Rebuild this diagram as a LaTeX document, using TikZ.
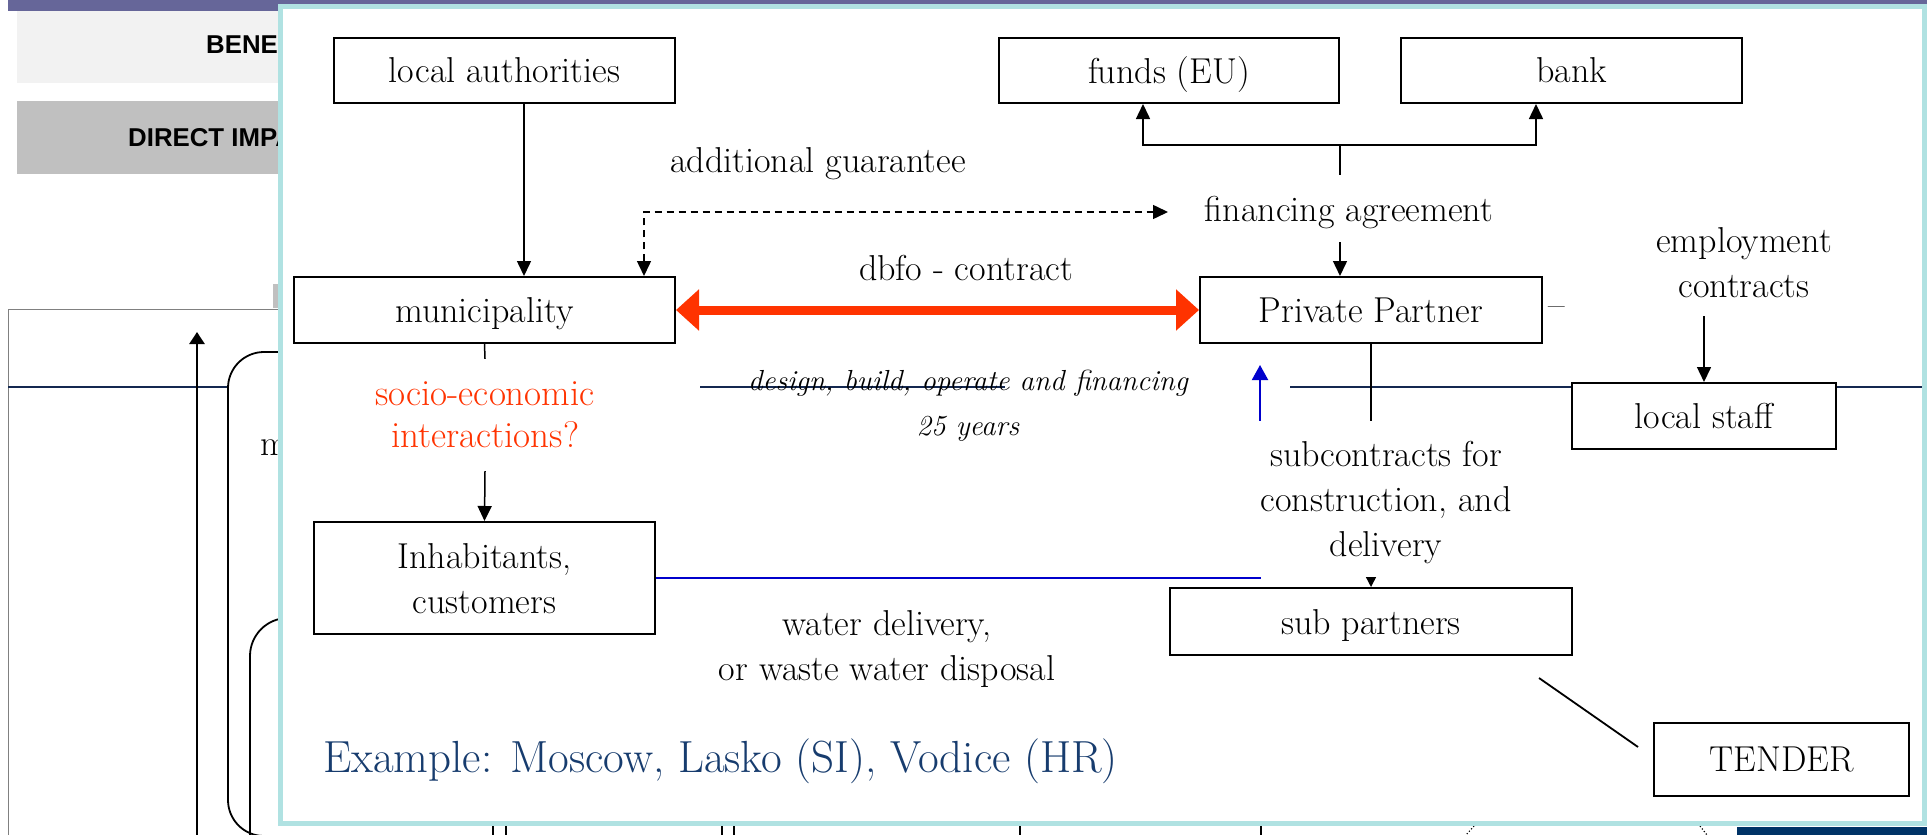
\documentclass[tikz,border=0pt]{standalone}
\usepackage{fontspec}
\newfontfamily\arialf{Liberation Sans}
\usetikzlibrary{arrows.meta,calc}
\definecolor{panelc}{RGB}{176,226,226}
\definecolor{barc}{RGB}{102,102,153}
\definecolor{lgray}{RGB}{242,242,242}
\definecolor{mgray}{RGB}{192,192,192}
\definecolor{navyl}{RGB}{20,40,80}
\definecolor{navyr}{RGB}{0,51,102}
\definecolor{redc}{RGB}{255,51,0}
\definecolor{bluec}{RGB}{0,0,204}
\definecolor{exblue}{RGB}{23,60,110}
\newcommand\dgbody{\fontsize{36}{45}\selectfont}
\newcommand\dgital{\fontsize{29}{45}\selectfont\itshape}
\newcommand\dgbg{\arialf\bfseries\fontsize{25.8}{30}\selectfont}
\begin{document}
\begin{tikzpicture}[x=1pt,y=-1pt,
  box/.style={draw,line width=2pt,inner sep=0pt,font=\dgbody,fill=white,text depth=0pt},
  lbl/.style={inner sep=0pt,font=\dgbody,align=center,text depth=0pt},
  conn/.style={line width=1.5pt},
  tip/.style={-{Triangle[length=15pt,width=14pt]}},
]
\useasboundingbox (0,0) rectangle (1927,835);
\begin{scope}
\clip (0,0) rectangle (1927,835);
% ---------- background slide ----------
\fill[barc] (8,0) rectangle (1927,11);
\fill[lgray] (17,11) rectangle (280,83);
\node[anchor=base west,inner sep=0pt,font=\dgbg] (bene) at (206,53) {BENE};
\fill[mgray] (17,101) rectangle (280,174);
\node[anchor=base west,inner sep=0pt,font=\dgbg] (direct) at (128,146) {DIRECT IMPA};
\fill[mgray] (273,284) rectangle (280,308);
\draw[gray,line width=1pt] (8,900) -- (8,309.5) -- (300,309.5);
\draw[navyl,line width=1.2pt] (8,387) -- (228,387);
\draw[line width=2.5pt,-{Triangle[length=12pt,width=15pt]}] (197,900) -- (197,332);
\draw[line width=1.8pt,rounded corners=36pt] (320,352) -- (228,352) -- (228,836) -- (320,836);
\draw[line width=1.8pt,rounded corners=38pt] (320,618) -- (250,618) -- (250,900);
\node[anchor=base west,inner sep=0pt,font=\dgbody] (mfrag) at (260,455) {m};
\foreach \xx in {493,506,722,734,1020,1261} \draw[line width=1.2pt] (\xx,800) -- (\xx,835);
\draw[dotted,line width=1.2pt] (1474,826) -- (1466,835);
\draw[dotted,line width=1.2pt] (1700,826) -- (1707,835);
\fill[navyr] (1737,827) rectangle (1927,835);
% ---------- panel ----------
\draw[panelc,line width=5pt,fill=white] (280.5,6.5) rectangle (1924.5,823.5);
\draw[navyl,line width=1.2pt] (700,387) -- (1005,387) (1290,387) -- (1572,387) (1836,387) -- (1922,387);
% boxes
\node[box,minimum width=341pt,minimum height=65pt] (la) at (504.5,70.5) {local authorities};
\node[box,minimum width=340pt,minimum height=65pt] (funds) at (1169,70.5) {funds (EU)};
\node[box,minimum width=341pt,minimum height=65pt] (bank) at (1571.5,70.5) {bank};
\node[box,minimum width=381pt,minimum height=66pt] (muni) at (484.5,310) {municipality};
\node[box,minimum width=342pt,minimum height=66pt] (pp) at (1371,310) {Private Partner};
\node[box,minimum width=341pt,minimum height=112pt,align=center] (inh) at (484.5,578) {Inhabitants,\\customers};
\node[box,minimum width=402pt,minimum height=67pt] (sub) at (1371,621.5) {sub partners};
\node[box,minimum width=264pt,minimum height=66pt] (staff) at (1704,416) {local staff};
\node[box,minimum width=255pt,minimum height=73pt] (tender) at (1781.5,759.5) {TENDER};
% labels
\node[lbl] (addg) at (818,160) {additional guarantee};
\node[lbl,minimum height=67pt] (finag) at (1349,208.5) {financing agreement};
\node[lbl] (dbfo) at (966,268) {dbfo - contract};
\node[lbl,font=\dgital] (dbfoit) at (968,403) {design, build, operate and financing\\25 years};
\node[lbl,text=redc,minimum height=112pt,font=\fontsize{37}{42}\selectfont] (socio) at (485,415) {socio-economic\\interactions?};
\node[lbl,minimum height=107pt] (empl) at (1744,262.5) {employment\\contracts};
\node[lbl] (water) at (887,645) {water delivery,\\or waste water disposal};
\node[lbl] (dash) at (1557,312) {–};
\node[anchor=base west,inner sep=0pt,font=\fontsize{45}{50}\selectfont,text=exblue] (example) at (323,772) {Example: Moscow, Lasko (SI), Vodice (HR)};
% connectors
\draw[conn,tip] ([xshift=19.5pt]la.south) -- ([xshift=19.5pt]la.south |- muni.north);
\draw[conn] ([xshift=-9pt]finag.north) -- ++(0,-30) coordinate (fork);
\draw[conn,tip] (fork) -| ([xshift=-26pt]funds.south);
\draw[conn,tip] (fork) -| ([xshift=-35.5pt]bank.south);
\draw[conn,tip] ([xshift=-9pt]finag.south) -- ([xshift=-9pt]finag.south |- pp.north);
\coordinate (dashend) at (1168,212);
\draw[conn,dash pattern=on 7pt off 5pt,{Triangle[length=15pt,width=14pt]}-{Triangle[length=15pt,width=14pt]}] ([xshift=159.5pt]muni.north) |- (dashend);
\draw[redc,line width=9pt,{Triangle[length=23pt,width=40pt]}-{Triangle[length=23pt,width=40pt]}] (muni.east) -- (pp.west);
\draw[conn] (muni.south) -- (socio.north);
\draw[conn,tip] (socio.south) -- (inh.north);
\draw[conn,-{Triangle[length=11pt,width=11pt]}] (pp.south) -- (sub.north);
\coordinate (blueend) at (1260,365);
\draw[bluec,line width=2pt,-{Triangle[length=15pt,width=16pt]}] (inh.east) -| (blueend);
\node[lbl,fill=white,minimum width=262pt,minimum height=156pt] (subc) at (1386,499) {subcontracts for\\construction, and\\delivery};
\draw[conn,tip] (empl.south -| staff.north) -- (staff.north);
\draw[line width=1.8pt] ($(sub.south east)+(-34,22)$) -- ($(tender.west)+(-15,-12.5)$);
\end{scope}
\end{tikzpicture}
\end{document}
